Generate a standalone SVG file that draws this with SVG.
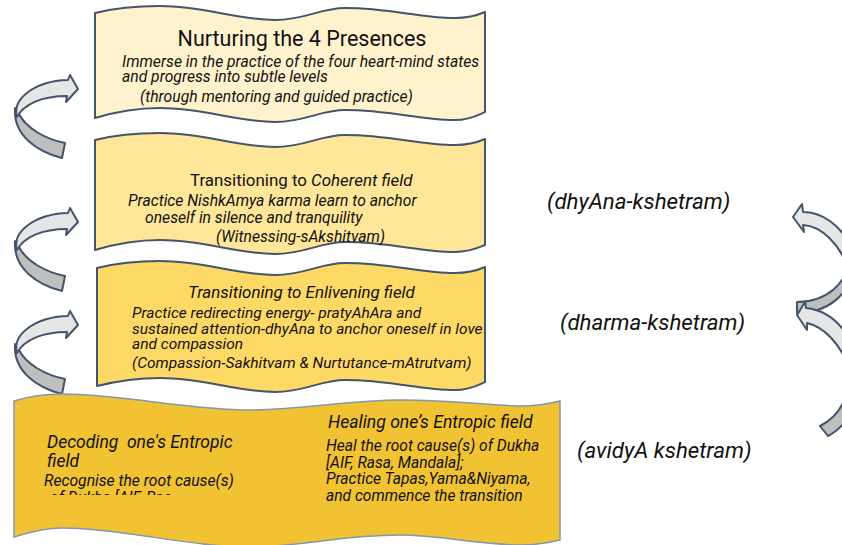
<svg xmlns="http://www.w3.org/2000/svg" width="842" height="545" viewBox="0 0 842 545">
<defs>
<style>
.box{stroke:#44546A;stroke-width:2;stroke-linejoin:round}
.b4{stroke:#8497B0;stroke-width:1.5}
.t{font-family:Roboto,'Liberation Sans',sans-serif;fill:#111}
.i{font-style:italic}
.lt{fill:#E7E6E6;stroke:#44546A;stroke-width:2;stroke-linejoin:round}
.dk{fill:#BFBFBF;stroke:#44546A;stroke-width:2;stroke-linejoin:round}
</style>
<clipPath id="cut"><rect x="30" y="486" width="140" height="9"/></clipPath>
<g id="arrL">
<path class="dk" d="M15,108 C13,136 38,152 62,158 L65,143 C45,139 26,128 19,114 Z"/>
<path class="lt" d="M68,80 L70,75 L78,89 L66,102 L67,96 C42,96 24,104 17,117 C12,100 33,81 68,80 Z"/>
</g>
</defs>
<rect width="842" height="545" fill="#fff"/>

<g id="connectors">
<use href="#arrL"/>
<use href="#arrL" transform="translate(0,133)"/>
<use href="#arrL" transform="translate(0,236)"/>
<g id="arrR1">
<path class="dk" d="M850,255 C848,285 825,302 797,302 L797,313 C828,313 848,295 854,270 Z"/>
<path class="lt" d="M803,212 C822,212 840,225 850,245 L848,268 C840,245 822,226 803,225 L804,232 L793,217 L802,204 Z"/>
</g>
<g id="arrR2">
<path class="dk" d="M852,360 C850,395 842,415 820,426 L828,436 C850,425 858,400 858,370 Z"/>
<path class="lt" d="M806,308 C825,310 840,322 850,340 L848,365 C840,345 825,327 807,323 L807,330 L797,315 L805,302 Z"/>
</g>
</g>

<g id="node-entropic">
<path class="b4" fill="#F1C232" d="M14,401 C30,396 45,394 62,394 C120,394 190,410 250,410 C300,410 350,400 400,400 C450,400 500,406 520,406 C535,406 548,404 560,401 L560,540 C548,543 535,545 520,545 C480,545 440,535 400,535 C340,535 300,547 250,547 C190,547 120,528 62,528 C45,528 30,532 14,537 Z"/>
<text class="t i" font-size="17.5" x="47" y="448">Decoding&#160; one's Entropic</text>
<text class="t i" font-size="17.5" x="47" y="467">field</text>
<text class="t i" font-size="15.7" x="44" y="486">Recognise the root cause(s)</text>
<text class="t i" font-size="15.7" x="50" y="503" clip-path="url(#cut)">of Dukha [AIF, Rasa, Mandala]</text>
<text class="t i" font-size="17.6" x="328" y="428">Healing one’s Entropic field</text>
<text class="t i" font-size="15.6" x="326" y="451">Heal the root cause(s) of Dukha</text>
<text class="t i" font-size="15.6" x="326" y="468">[AIF, Rasa, Mandala];</text>
<text class="t i" font-size="15.6" x="326" y="484">Practice Tapas,Yama&amp;Niyama,</text>
<text class="t i" font-size="15.6" x="326" y="501">and commence the transition</text>
</g>

<g id="node-enlivening">
<path class="box" fill="#FFD966" d="M97,268 C117,263 137,261 160,261 C205,261 235,275 275,275 C305,275 320,263 345,263 C390,263 420,273 455,273 C470,273 478,270 485,267 L485,382 C478,385 470,390 455,390 C420,390 390,380 345,380 C320,380 305,392 275,392 C235,392 205,378 160,378 C137,378 117,381 97,386 Z"/>
<text class="t i" font-size="16.9" x="188" y="298">Transitioning to Enlivening field</text>
<text class="t i" font-size="15.5" x="132" y="318">Practice redirecting energy- pratyAhAra and</text>
<text class="t i" font-size="15.5" x="132" y="334">sustained attention-dhyAna to anchor oneself in love</text>
<text class="t i" font-size="15.5" x="132" y="349">and compassion</text>
<text class="t i" font-size="15.5" x="132" y="368">(Compassion-Sakhitvam &amp; Nurtutance-mAtrutvam)</text>
</g>

<g id="node-coherent">
<path class="box" fill="#FFE699" d="M95,140 C115,135 135,133 160,133 C205,133 235,147 275,147 C305,147 320,135 345,135 C390,135 420,145 455,145 C470,145 478,142 485,139 L485,245 C478,248 470,252 455,252 C420,252 390,242 345,242 C320,242 305,254 275,254 C235,254 205,240 160,240 C135,240 115,244 95,250 Z"/>
<text class="t" font-size="16.9" x="190" y="186">Transitioning to <tspan class="i">Coherent field</tspan></text>
<text class="t i" font-size="15.7" x="128" y="206">Practice NishkAmya karma learn to anchor</text>
<text class="t i" font-size="15.7" x="145" y="223">oneself in silence and tranquility</text>
<text class="t i" font-size="15.7" x="216" y="242">(Witnessing-sAkshitvam)</text>
</g>

<g id="node-nurturing">
<path class="box" fill="#FFF2CC" d="M95,13 C115,8 135,6 160,6 C205,6 235,20 275,20 C305,20 320,8 345,8 C390,8 420,18 455,18 C470,18 478,15 485,12 L485,112 C478,115 470,120 455,120 C420,120 390,110 345,110 C320,110 305,122 275,122 C235,122 205,108 160,108 C135,108 115,112 95,118 Z"/>
<text class="t" font-size="21.5" x="302" y="46" text-anchor="middle">Nurturing the 4 Presences</text>
<text class="t i" font-size="15.7" x="122" y="67">Immerse in the practice of the four heart-mind states</text>
<text class="t i" font-size="15.7" x="122" y="82">and progress into subtle levels</text>
<text class="t i" font-size="15.7" x="140" y="102">(through mentoring and guided practice)</text>
</g>

<g id="labels">
<text class="t i" font-size="22.3" x="547" y="209">(dhyAna-kshetram)</text>
<text class="t i" font-size="22.3" x="560" y="330">(dharma-kshetram)</text>
<text class="t i" font-size="22.3" x="577" y="458">(avidyA kshetram)</text>
</g>
</svg>
